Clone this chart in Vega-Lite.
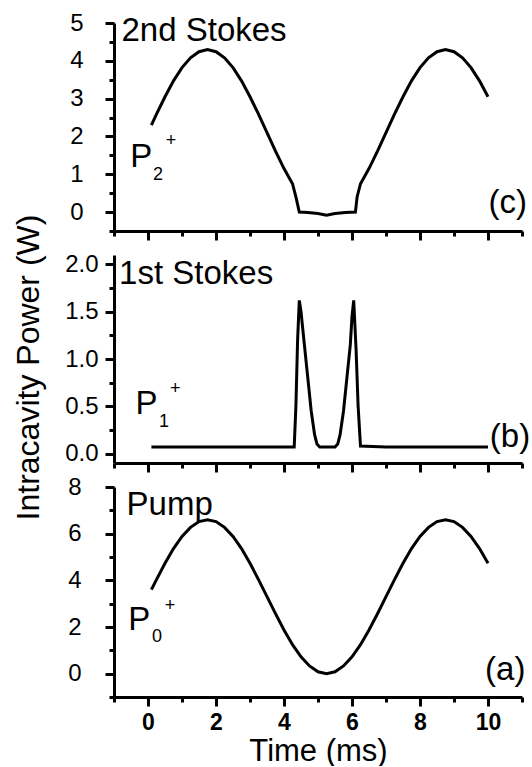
{
  "$schema": "https://vega.github.io/schema/vega-lite/v6.json",
  "autosize": {"type": "pad"},
  "padding": {"left": 12, "top": 11, "right": 5, "bottom": 0},
  "background": "white",
  "bounds": "flush",
  "spacing": 24,
  "config": {
    "font": "Liberation Sans",
    "view": {"stroke": null},
    "axis": {
      "domainColor": "black", "domainWidth": 3, "tickColor": "black", "tickWidth": 3,
      "grid": false, "labelColor": "black", "titleColor": "black",
      "labelFont": "Liberation Sans", "titleFont": "Liberation Sans",
      "labelFontSize": 24, "titleFontSize": 32, "titleFontWeight": "normal"
    },
    "axisX": {"labelFontWeight": "bold", "labelFontSize": 23},
    "text": {"font": "Liberation Sans", "color": "black"}
  },
  "vconcat": [
    {
      "width": 408, "height": 208,
      "data": {"values": [
        {"t": 0.1, "p": 2.30}, {"t": 0.25, "p": 2.59}, {"t": 0.5, "p": 3.05}, {"t": 0.75, "p": 3.47},
        {"t": 1.0, "p": 3.82}, {"t": 1.25, "p": 4.08}, {"t": 1.5, "p": 4.24}, {"t": 1.75, "p": 4.30},
        {"t": 2.0, "p": 4.24}, {"t": 2.25, "p": 4.08}, {"t": 2.5, "p": 3.82}, {"t": 2.75, "p": 3.47},
        {"t": 3.0, "p": 3.05}, {"t": 3.25, "p": 2.59}, {"t": 3.5, "p": 2.10}, {"t": 3.75, "p": 1.61},
        {"t": 4.0, "p": 1.15}, {"t": 4.25, "p": 0.75}, {"t": 4.35, "p": 0.4}, {"t": 4.45, "p": 0.0},
        {"t": 4.7, "p": -0.01}, {"t": 5.0, "p": -0.04}, {"t": 5.25, "p": -0.08}, {"t": 5.5, "p": -0.04},
        {"t": 5.8, "p": -0.01}, {"t": 6.1, "p": 0.0}, {"t": 6.15, "p": 0.4}, {"t": 6.25, "p": 0.75},
        {"t": 6.5, "p": 1.15}, {"t": 6.75, "p": 1.61}, {"t": 7.0, "p": 2.10}, {"t": 7.25, "p": 2.59},
        {"t": 7.5, "p": 3.05}, {"t": 7.75, "p": 3.47}, {"t": 8.0, "p": 3.82}, {"t": 8.25, "p": 4.08},
        {"t": 8.5, "p": 4.24}, {"t": 8.75, "p": 4.30}, {"t": 9.0, "p": 4.24}, {"t": 9.25, "p": 4.08},
        {"t": 9.5, "p": 3.82}, {"t": 9.75, "p": 3.47}, {"t": 10.0, "p": 3.05}
      ]},
      "layer": [
        {
          "mark": {"type": "line", "color": "black", "strokeWidth": 3},
          "encoding": {
            "x": {"field": "t", "type": "quantitative", "scale": {"domain": [-1, 11], "nice": false, "zero": false},
                  "axis": {"orient": "bottom", "values": [0, 2, 4, 6, 8, 10], "labels": false, "title": null, "tickSize": 9}},
            "y": {"field": "p", "type": "quantitative", "scale": {"domain": [-0.5, 5], "nice": false, "zero": false},
                  "axis": {"orient": "left", "values": [0, 1, 2, 3, 4, 5], "title": null, "tickSize": 9, "labels": false}}
          }
        },
        {
          "mark": {"type": "line", "opacity": 0},
          "encoding": {
            "x": {"field": "t", "type": "quantitative", "scale": {"domain": [-1, 11], "nice": false, "zero": false},
                  "axis": {"orient": "bottom", "values": [-1, 1, 3, 5, 7, 9, 11], "labels": false, "title": null, "tickSize": 5, "domain": false}},
            "y": {"field": "p", "type": "quantitative", "scale": {"domain": [-0.5, 5], "nice": false, "zero": false},
                  "axis": {"orient": "left", "values": [-0.5, 0.5, 1.5, 2.5, 3.5, 4.5], "labels": false, "title": null, "tickSize": 5, "domain": false}}
          }
        },
        {
          "mark": {"type": "line", "opacity": 0},
          "encoding": {
            "x": {"field": "t", "type": "quantitative", "scale": {"domain": [-1, 11], "nice": false, "zero": false}, "axis": null},
            "y": {"field": "p", "type": "quantitative", "scale": {"domain": [-0.5, 5], "nice": false, "zero": false},
                  "axis": {"orient": "left", "values": [0, 1, 2, 3, 4, 5], "title": null, "ticks": false, "domain": false, "offset": 29, "labelAlign": "right"}}
          }
        },
        {
          "data": {"values": [{"label": "2nd Stokes"}]},
          "mark": {"type": "text", "fontSize": 33, "align": "left", "baseline": "alphabetic"},
          "encoding": {"x": {"datum": -0.78, "type": "quantitative", "axis": null}, "y": {"datum": 4.53, "type": "quantitative", "axis": null}, "text": {"field": "label"}}
        },
        {
          "data": {"values": [{"label": "P"}]},
          "mark": {"type": "text", "fontSize": 33, "align": "left", "baseline": "alphabetic"},
          "encoding": {"x": {"datum": -0.52, "type": "quantitative", "axis": null}, "y": {"datum": 1.2, "type": "quantitative", "axis": null}, "text": {"field": "label"}}
        },
        {
          "data": {"values": [{"label": "2"}]},
          "mark": {"type": "text", "fontSize": 18, "align": "left", "baseline": "alphabetic"},
          "encoding": {"x": {"datum": 0.15, "type": "quantitative", "axis": null}, "y": {"datum": 0.85, "type": "quantitative", "axis": null}, "text": {"field": "label"}}
        },
        {
          "data": {"values": [{"label": "+"}]},
          "mark": {"type": "text", "fontSize": 18, "align": "center", "baseline": "middle"},
          "encoding": {"x": {"datum": 0.68, "type": "quantitative", "axis": null}, "y": {"datum": 1.88, "type": "quantitative", "axis": null}, "text": {"field": "label"}}
        },
        {
          "data": {"values": [{"label": "(c)"}]},
          "mark": {"type": "text", "fontSize": 33, "align": "right", "baseline": "alphabetic"},
          "encoding": {"x": {"datum": 11.15, "type": "quantitative", "axis": null}, "y": {"datum": -0.03, "type": "quantitative", "axis": null}, "text": {"field": "label"}}
        }
      ],
      "resolve": {"axis": {"x": "independent", "y": "independent"}}
    },
    {
      "width": 408, "height": 208,
      "data": {"values": [
        {"t": 0.1, "p": 0.07}, {"t": 4.3, "p": 0.07}, {"t": 4.35, "p": 0.5}, {"t": 4.4, "p": 1.2},
        {"t": 4.45, "p": 1.62}, {"t": 4.5, "p": 1.5}, {"t": 4.6, "p": 1.15}, {"t": 4.7, "p": 0.8},
        {"t": 4.8, "p": 0.45}, {"t": 4.9, "p": 0.2}, {"t": 4.97, "p": 0.1}, {"t": 5.05, "p": 0.07},
        {"t": 5.5, "p": 0.07}, {"t": 5.58, "p": 0.1}, {"t": 5.65, "p": 0.2}, {"t": 5.75, "p": 0.45},
        {"t": 5.85, "p": 0.8}, {"t": 5.95, "p": 1.15}, {"t": 6.0, "p": 1.45}, {"t": 6.05, "p": 1.62},
        {"t": 6.12, "p": 1.1}, {"t": 6.18, "p": 0.5}, {"t": 6.25, "p": 0.08}, {"t": 7.0, "p": 0.07},
        {"t": 10.0, "p": 0.07}
      ]},
      "layer": [
        {
          "mark": {"type": "line", "color": "black", "strokeWidth": 3},
          "encoding": {
            "x": {"field": "t", "type": "quantitative", "scale": {"domain": [-1, 11], "nice": false, "zero": false},
                  "axis": {"orient": "bottom", "values": [0, 2, 4, 6, 8, 10], "labels": false, "title": null, "tickSize": 9}},
            "y": {"field": "p", "type": "quantitative", "scale": {"domain": [-0.1, 2.1], "nice": false, "zero": false},
                  "axis": {"orient": "left", "values": [0, 0.5, 1, 1.5, 2], "tickSize": 9, "labels": false,
                           "title": "Intracavity Power (W)", "titleX": -85.5, "titleY": 112, "titleBaseline": "middle", "titleAngle": 270}}
          }
        },
        {
          "mark": {"type": "line", "opacity": 0},
          "encoding": {
            "x": {"field": "t", "type": "quantitative", "scale": {"domain": [-1, 11], "nice": false, "zero": false},
                  "axis": {"orient": "bottom", "values": [-1, 1, 3, 5, 7, 9, 11], "labels": false, "title": null, "tickSize": 5, "domain": false}},
            "y": {"field": "p", "type": "quantitative", "scale": {"domain": [-0.1, 2.1], "nice": false, "zero": false},
                  "axis": {"orient": "left", "values": [0.25, 0.75, 1.25, 1.75], "labels": false, "title": null, "tickSize": 5, "domain": false}}
          }
        },
        {
          "mark": {"type": "line", "opacity": 0},
          "encoding": {
            "x": {"field": "t", "type": "quantitative", "scale": {"domain": [-1, 11], "nice": false, "zero": false}, "axis": null},
            "y": {"field": "p", "type": "quantitative", "scale": {"domain": [-0.1, 2.1], "nice": false, "zero": false},
                  "axis": {"orient": "left", "values": [0, 0.5, 1, 1.5, 2], "format": ".1f", "title": null, "ticks": false, "domain": false, "offset": 14, "labelAlign": "right"}}
          }
        },
        {
          "data": {"values": [{"label": "1st Stokes"}]},
          "mark": {"type": "text", "fontSize": 33, "align": "left", "baseline": "alphabetic"},
          "encoding": {"x": {"datum": -0.85, "type": "quantitative", "axis": null}, "y": {"datum": 1.79, "type": "quantitative", "axis": null}, "text": {"field": "label"}}
        },
        {
          "data": {"values": [{"label": "P"}]},
          "mark": {"type": "text", "fontSize": 33, "align": "left", "baseline": "alphabetic"},
          "encoding": {"x": {"datum": -0.37, "type": "quantitative", "axis": null}, "y": {"datum": 0.42, "type": "quantitative", "axis": null}, "text": {"field": "label"}}
        },
        {
          "data": {"values": [{"label": "1"}]},
          "mark": {"type": "text", "fontSize": 18, "align": "left", "baseline": "alphabetic"},
          "encoding": {"x": {"datum": 0.32, "type": "quantitative", "axis": null}, "y": {"datum": 0.28, "type": "quantitative", "axis": null}, "text": {"field": "label"}}
        },
        {
          "data": {"values": [{"label": "+"}]},
          "mark": {"type": "text", "fontSize": 18, "align": "center", "baseline": "middle"},
          "encoding": {"x": {"datum": 0.8, "type": "quantitative", "axis": null}, "y": {"datum": 0.68, "type": "quantitative", "axis": null}, "text": {"field": "label"}}
        },
        {
          "data": {"values": [{"label": "(b)"}]},
          "mark": {"type": "text", "fontSize": 33, "align": "right", "baseline": "alphabetic"},
          "encoding": {"x": {"datum": 11.24, "type": "quantitative", "axis": null}, "y": {"datum": 0.07, "type": "quantitative", "axis": null}, "text": {"field": "label"}}
        }
      ],
      "resolve": {"axis": {"x": "independent", "y": "independent"}}
    },
    {
      "width": 408, "height": 210,
      "data": {"values": [
        {"t": 0.1, "p": 3.60}, {"t": 0.25, "p": 4.03}, {"t": 0.5, "p": 4.73}, {"t": 0.75, "p": 5.36},
        {"t": 1.0, "p": 5.88}, {"t": 1.25, "p": 6.27}, {"t": 1.5, "p": 6.52}, {"t": 1.75, "p": 6.60},
        {"t": 2.0, "p": 6.52}, {"t": 2.25, "p": 6.27}, {"t": 2.5, "p": 5.88}, {"t": 2.75, "p": 5.36},
        {"t": 3.0, "p": 4.73}, {"t": 3.25, "p": 4.03}, {"t": 3.5, "p": 3.30}, {"t": 3.75, "p": 2.57},
        {"t": 4.0, "p": 1.87}, {"t": 4.25, "p": 1.24}, {"t": 4.5, "p": 0.72}, {"t": 4.75, "p": 0.33},
        {"t": 5.0, "p": 0.08}, {"t": 5.25, "p": 0.0}, {"t": 5.5, "p": 0.08}, {"t": 5.75, "p": 0.33},
        {"t": 6.0, "p": 0.72}, {"t": 6.25, "p": 1.24}, {"t": 6.5, "p": 1.87}, {"t": 6.75, "p": 2.57},
        {"t": 7.0, "p": 3.30}, {"t": 7.25, "p": 4.03}, {"t": 7.5, "p": 4.73}, {"t": 7.75, "p": 5.36},
        {"t": 8.0, "p": 5.88}, {"t": 8.25, "p": 6.27}, {"t": 8.5, "p": 6.52}, {"t": 8.75, "p": 6.60},
        {"t": 9.0, "p": 6.52}, {"t": 9.25, "p": 6.27}, {"t": 9.5, "p": 5.88}, {"t": 9.75, "p": 5.36},
        {"t": 10.0, "p": 4.73}
      ]},
      "layer": [
        {
          "mark": {"type": "line", "color": "black", "strokeWidth": 3},
          "encoding": {
            "x": {"field": "t", "type": "quantitative", "scale": {"domain": [-1, 11], "nice": false, "zero": false},
                  "axis": {"orient": "bottom", "values": [0, 2, 4, 6, 8, 10], "tickSize": 9, "labelPadding": 5,
                           "title": "Time (ms)", "titleFontSize": 31, "titleBaseline": "alphabetic", "titleY": 63}},
            "y": {"field": "p", "type": "quantitative", "scale": {"domain": [-1, 8], "nice": false, "zero": false},
                  "axis": {"orient": "left", "values": [0, 2, 4, 6, 8], "title": null, "tickSize": 9, "labels": false}}
          }
        },
        {
          "mark": {"type": "line", "opacity": 0},
          "encoding": {
            "x": {"field": "t", "type": "quantitative", "scale": {"domain": [-1, 11], "nice": false, "zero": false},
                  "axis": {"orient": "bottom", "values": [-1, 1, 3, 5, 7, 9, 11], "labels": false, "title": null, "tickSize": 5, "domain": false}},
            "y": {"field": "p", "type": "quantitative", "scale": {"domain": [-1, 8], "nice": false, "zero": false},
                  "axis": {"orient": "left", "values": [-1, 1, 3, 5, 7], "labels": false, "title": null, "tickSize": 5, "domain": false}}
          }
        },
        {
          "mark": {"type": "line", "opacity": 0},
          "encoding": {
            "x": {"field": "t", "type": "quantitative", "scale": {"domain": [-1, 11], "nice": false, "zero": false}, "axis": null},
            "y": {"field": "p", "type": "quantitative", "scale": {"domain": [-1, 8], "nice": false, "zero": false},
                  "axis": {"orient": "left", "values": [0, 2, 4, 6, 8], "title": null, "ticks": false, "domain": false, "offset": 31, "labelAlign": "right"}}
          }
        },
        {
          "data": {"values": [{"label": "Pump"}]},
          "mark": {"type": "text", "fontSize": 33, "align": "left", "baseline": "alphabetic"},
          "encoding": {"x": {"datum": -0.63, "type": "quantitative", "axis": null}, "y": {"datum": 6.81, "type": "quantitative", "axis": null}, "text": {"field": "label"}}
        },
        {
          "data": {"values": [{"label": "P"}]},
          "mark": {"type": "text", "fontSize": 33, "align": "left", "baseline": "alphabetic"},
          "encoding": {"x": {"datum": -0.58, "type": "quantitative", "axis": null}, "y": {"datum": 1.87, "type": "quantitative", "axis": null}, "text": {"field": "label"}}
        },
        {
          "data": {"values": [{"label": "0"}]},
          "mark": {"type": "text", "fontSize": 18, "align": "left", "baseline": "alphabetic"},
          "encoding": {"x": {"datum": 0.12, "type": "quantitative", "axis": null}, "y": {"datum": 1.36, "type": "quantitative", "axis": null}, "text": {"field": "label"}}
        },
        {
          "data": {"values": [{"label": "+"}]},
          "mark": {"type": "text", "fontSize": 18, "align": "center", "baseline": "middle"},
          "encoding": {"x": {"datum": 0.65, "type": "quantitative", "axis": null}, "y": {"datum": 2.89, "type": "quantitative", "axis": null}, "text": {"field": "label"}}
        },
        {
          "data": {"values": [{"label": "(a)"}]},
          "mark": {"type": "text", "fontSize": 33, "align": "right", "baseline": "alphabetic"},
          "encoding": {"x": {"datum": 11.1, "type": "quantitative", "axis": null}, "y": {"datum": -0.26, "type": "quantitative", "axis": null}, "text": {"field": "label"}}
        }
      ],
      "resolve": {"axis": {"x": "independent", "y": "independent"}}
    }
  ]
}
